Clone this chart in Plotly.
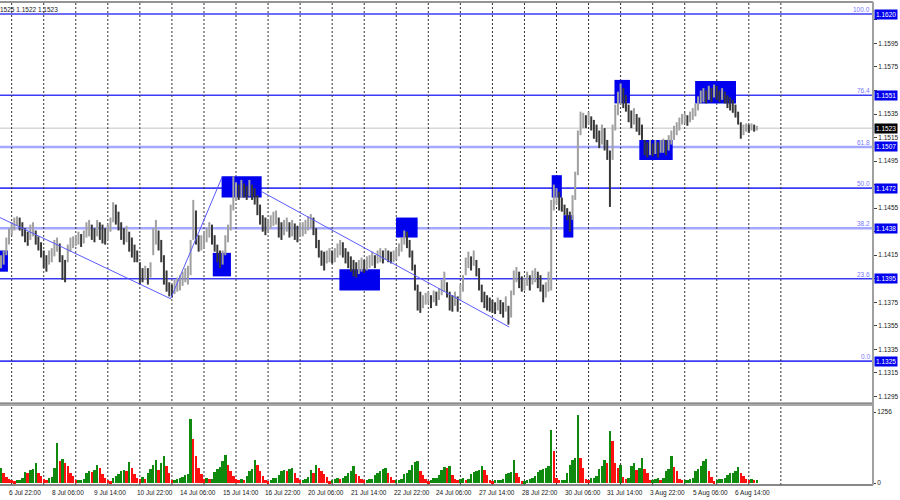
import numpy as np
import plotly.graph_objects as go

# EURUSD, 2-hour bars (bar 0 = 6 Jul 16:00)
highs = [
    1.1415, 1.1419, 1.1430, 1.1438, 1.1443, 1.1447, 1.1448, 1.1447, 1.1443, 1.1438,
    1.1435, 1.1441, 1.1443, 1.1436, 1.1431, 1.1426, 1.1419, 1.1415, 1.1419, 1.1421,
    1.1428, 1.1430, 1.1425, 1.1415, 1.1411, 1.1424, 1.1430, 1.1431, 1.1432, 1.1435,
    1.1433, 1.1436, 1.1443, 1.1445, 1.1441, 1.1438, 1.1445, 1.1443, 1.1441, 1.1438,
    1.1441, 1.1447, 1.1460, 1.1458, 1.1452, 1.1443, 1.1438, 1.1440, 1.1435, 1.1430,
    1.1424, 1.1419, 1.1409, 1.1404, 1.1406, 1.1404, 1.1409, 1.1438, 1.1445, 1.1436,
    1.1428, 1.1415, 1.1402, 1.1392, 1.1390, 1.1394, 1.1396, 1.1398, 1.1401, 1.1404,
    1.1406, 1.1428, 1.1462, 1.1453, 1.1432, 1.1432, 1.1435, 1.1438, 1.1443, 1.1441,
    1.1432, 1.1424, 1.1419, 1.1419, 1.1432, 1.1441, 1.1458, 1.1482, 1.1477, 1.1475,
    1.1479, 1.1476, 1.1474, 1.1479, 1.1475, 1.1472, 1.1466, 1.1458, 1.1449, 1.1447,
    1.1445, 1.1449, 1.1452, 1.1453, 1.1447, 1.1443, 1.1445, 1.1447, 1.1443, 1.1445,
    1.1442, 1.1440, 1.1443, 1.1443, 1.1445, 1.1448, 1.1450, 1.1447, 1.1438, 1.1428,
    1.1419, 1.1418, 1.1419, 1.1421, 1.1419, 1.1421, 1.1425, 1.1428, 1.1426, 1.1421,
    1.1418, 1.1414, 1.1411, 1.1409, 1.1411, 1.1413, 1.1411, 1.1414, 1.1415, 1.1418,
    1.1415, 1.1419, 1.1421, 1.1419, 1.1421, 1.1419, 1.1418, 1.1419, 1.1421, 1.1425,
    1.1430, 1.1436, 1.1435, 1.1428, 1.1419, 1.1407, 1.1390, 1.1384, 1.1381, 1.1383,
    1.1384, 1.1381, 1.1385, 1.1384, 1.1387, 1.1394, 1.1401, 1.1392, 1.1384, 1.1381,
    1.1384, 1.1380, 1.1390, 1.1398, 1.1413, 1.1418, 1.1414, 1.1419, 1.1411, 1.1404,
    1.1390, 1.1384, 1.1381, 1.1379, 1.1377, 1.1375, 1.1379, 1.1377, 1.1375, 1.1380,
    1.1372, 1.1385, 1.1402, 1.1405, 1.1401, 1.1397, 1.1396, 1.1401, 1.1398, 1.1402,
    1.1404, 1.1401, 1.1398, 1.1390, 1.1392, 1.1401, 1.1462, 1.1475, 1.1472, 1.1469,
    1.1464, 1.1458, 1.1455, 1.1452, 1.1466, 1.1486, 1.1521, 1.1537, 1.1536, 1.1534,
    1.1537, 1.1533, 1.1530, 1.1526, 1.1521, 1.1526, 1.1523, 1.1513, 1.1504, 1.1526,
    1.1543, 1.1554, 1.1561, 1.1557, 1.1551, 1.1543, 1.1538, 1.1540, 1.1535, 1.1532,
    1.1526, 1.1513, 1.1511, 1.1513, 1.1510, 1.1513, 1.1511, 1.1513, 1.1514, 1.1513,
    1.1517, 1.1521, 1.1525, 1.1528, 1.1532, 1.1535, 1.1536, 1.1534, 1.1537, 1.1540,
    1.1544, 1.1550, 1.1555, 1.1557, 1.1555, 1.1559, 1.1557, 1.1560, 1.1559, 1.1555,
    1.1557, 1.1554, 1.1551, 1.1549, 1.1547, 1.1543, 1.1537, 1.1528, 1.1526, 1.1527,
    1.1526, 1.1527, 1.1526, 1.1525,
]
lows = [
    1.1404, 1.1407, 1.1415, 1.1424, 1.1432, 1.1436, 1.1440, 1.1436, 1.1431, 1.1426,
    1.1423, 1.1428, 1.1431, 1.1424, 1.1419, 1.1413, 1.1404, 1.1401, 1.1407, 1.1409,
    1.1414, 1.1418, 1.1409, 1.1394, 1.1392, 1.1409, 1.1418, 1.1421, 1.1423, 1.1424,
    1.1422, 1.1425, 1.1430, 1.1431, 1.1428, 1.1426, 1.1431, 1.1428, 1.1425, 1.1424,
    1.1428, 1.1435, 1.1443, 1.1441, 1.1436, 1.1428, 1.1424, 1.1426, 1.1418, 1.1413,
    1.1409, 1.1409, 1.1390, 1.1392, 1.1394, 1.1390, 1.1396, 1.1415, 1.1424, 1.1419,
    1.1409, 1.1390, 1.1384, 1.1380, 1.1379, 1.1382, 1.1384, 1.1385, 1.1389, 1.1392,
    1.1390, 1.1398, 1.1428, 1.1424, 1.1418, 1.1419, 1.1421, 1.1426, 1.1430, 1.1424,
    1.1418, 1.1409, 1.1404, 1.1407, 1.1415, 1.1426, 1.1436, 1.1453, 1.1462, 1.1462,
    1.1464, 1.1464, 1.1462, 1.1465, 1.1462, 1.1458, 1.1449, 1.1441, 1.1435, 1.1432,
    1.1435, 1.1438, 1.1440, 1.1441, 1.1430, 1.1428, 1.1432, 1.1435, 1.1430, 1.1431,
    1.1428, 1.1426, 1.1431, 1.1431, 1.1433, 1.1436, 1.1438, 1.1432, 1.1421, 1.1413,
    1.1406, 1.1402, 1.1408, 1.1409, 1.1408, 1.1409, 1.1413, 1.1415, 1.1413, 1.1408,
    1.1404, 1.1401, 1.1397, 1.1396, 1.1399, 1.1401, 1.1400, 1.1402, 1.1404, 1.1406,
    1.1404, 1.1408, 1.1409, 1.1408, 1.1411, 1.1409, 1.1408, 1.1409, 1.1411, 1.1414,
    1.1418, 1.1424, 1.1421, 1.1413, 1.1402, 1.1385, 1.1368, 1.1366, 1.1370, 1.1373,
    1.1374, 1.1370, 1.1375, 1.1372, 1.1377, 1.1381, 1.1384, 1.1379, 1.1368, 1.1367,
    1.1372, 1.1367, 1.1377, 1.1384, 1.1398, 1.1404, 1.1402, 1.1406, 1.1397, 1.1385,
    1.1375, 1.1370, 1.1368, 1.1367, 1.1366, 1.1365, 1.1368, 1.1365, 1.1362, 1.1367,
    1.1356, 1.1362, 1.1381, 1.1392, 1.1387, 1.1384, 1.1385, 1.1389, 1.1385, 1.1390,
    1.1392, 1.1387, 1.1384, 1.1375, 1.1379, 1.1384, 1.1385, 1.1453, 1.1458, 1.1453,
    1.1452, 1.1449, 1.1445, 1.1435, 1.1445, 1.1462, 1.1483, 1.1517, 1.1523, 1.1523,
    1.1526, 1.1521, 1.1514, 1.1511, 1.1506, 1.1509, 1.1504, 1.1496, 1.1456, 1.1496,
    1.1521, 1.1534, 1.1543, 1.1540, 1.1537, 1.1528, 1.1523, 1.1526, 1.1520, 1.1517,
    1.1513, 1.1500, 1.1498, 1.1500, 1.1499, 1.1501, 1.1498, 1.1502, 1.1502, 1.1500,
    1.1504, 1.1509, 1.1513, 1.1517, 1.1521, 1.1526, 1.1527, 1.1525, 1.1528, 1.1530,
    1.1533, 1.1538, 1.1544, 1.1545, 1.1544, 1.1547, 1.1545, 1.1549, 1.1547, 1.1545,
    1.1547, 1.1544, 1.1540, 1.1538, 1.1536, 1.1532, 1.1526, 1.1514, 1.1517, 1.1520,
    1.1519, 1.1521, 1.1520, 1.1521,
]
volumes = [
    265, 177, 106, 71, 53, 35, 53, 53, 88, 195,
    177, 230, 248, 354, 177, 124, 71, 53, 88, 106,
    265, 708, 389, 425, 354, 301, 177, 124, 53, 53,
    53, 71, 177, 212, 195, 230, 319, 265, 159, 88,
    53, 35, 88, 124, 159, 212, 230, 212, 372, 265,
    159, 88, 71, 106, 71, 177, 248, 319, 407, 230,
    354, 478, 301, 177, 53, 53, 71, 88, 106, 142,
    159, 1133, 779, 478, 265, 159, 71, 88, 71, 71,
    195, 248, 283, 389, 496, 319, 212, 124, 71, 53,
    71, 53, 124, 212, 248, 407, 319, 212, 124, 53,
    35, 53, 88, 88, 142, 212, 230, 212, 248, 265,
    177, 88, 53, 53, 71, 106, 230, 177, 319, 265,
    212, 159, 106, 35, 53, 71, 88, 71, 88, 124,
    177, 212, 301, 159, 124, 71, 53, 53, 71, 71,
    142, 177, 212, 248, 265, 177, 106, 53, 53, 53,
    71, 159, 177, 230, 319, 372, 389, 212, 142, 71,
    35, 53, 88, 88, 142, 230, 283, 265, 301, 142,
    71, 53, 71, 88, 53, 71, 159, 195, 212, 230,
    301, 230, 142, 53, 35, 53, 53, 53, 71, 159,
    177, 195, 407, 177, 106, 35, 35, 53, 71, 88,
    124, 195, 230, 248, 265, 301, 938, 566, 88, 53,
    53, 53, 177, 319, 407, 442, 1204, 442, 265, 71,
    53, 88, 88, 124, 248, 301, 407, 354, 920, 743,
    354, 265, 319, 106, 71, 88, 301, 354, 230, 265,
    442, 248, 177, 53, 53, 71, 88, 53, 88, 212,
    248, 478, 283, 212, 71, 53, 53, 53, 71, 88,
    212, 248, 301, 389, 425, 212, 106, 35, 53, 71,
    71, 88, 142, 177, 177, 212, 283, 177, 124, 71,
    53, 71, 53, 53,
]

time_labels = [
    "6 Jul 22:00", "8 Jul 06:00", "9 Jul 14:00", "10 Jul 22:00", "14 Jul 06:00",
    "15 Jul 14:00", "16 Jul 22:00", "20 Jul 06:00", "21 Jul 14:00", "22 Jul 22:00",
    "24 Jul 06:00", "27 Jul 14:00", "28 Jul 22:00", "30 Jul 06:00", "31 Jul 14:00",
    "3 Aug 22:00", "5 Aug 06:00", "6 Aug 14:00",
]
label_first_bar = 3
label_step = 16

# period separators (one per trading day)
day_first_bar = 4
bars_per_day = 12
n_days = 25

fib_names = ["0.0", "23.6", "38.2", "50.0", "61.8", "76.4", "100.0"]
fib_prices = [1.1325, 1.1395, 1.1438, 1.1472, 1.1507, 1.1551, 1.1620]
fib_faint = [False, False, True, False, True, False, False]

price_ticks = [1.1295, 1.1315, 1.1335, 1.1355, 1.1375, 1.1395, 1.1415, 1.1435, 1.1455,
               1.1475, 1.1495, 1.1515, 1.1535, 1.1555, 1.1575, 1.1595, 1.1615]
last_price = 1.1523
vol_label = 1256
header = "1525 1.1522 1.1523"

# blue zones: (first bar, last bar, low, high)
zones = [
    (-0.4, 2.6, 1.1401, 1.1419),
    (79.3, 86.1, 1.1397, 1.1417),
    (82.6, 97.6, 1.1464, 1.1482),
    (126.7, 141.9, 1.1385, 1.1403),
    (147.9, 156.0, 1.1430, 1.1447),
    (206.2, 210.0, 1.1464, 1.1483),
    (210.6, 214.3, 1.1430, 1.1449),
    (229.7, 235.5, 1.1544, 1.1564),
    (239.0, 251.5, 1.1496, 1.1513),
    (259.9, 275.2, 1.1544, 1.1563),
]
trend_lines = [
    [(-0.4, 1.1447), (63.5, 1.1378), (82.9, 1.1482)],
    [(97.6, 1.1469), (190.3, 1.1354)],
]

FONT = "Liberation Sans"
BLUE = "#3c3cf5"
FAINT = "#a4a8ff"
ZONE = "#0000ee"

fig = go.Figure()

bars = np.arange(len(highs))
hi = np.array(highs)
lo = np.array(lows)
mid = (hi + lo) / 2
up = np.r_[True, mid[1:] >= mid[:-1]]

# ---- price bars ----
for mask, col in [(up, "#a0a0a0"), (~up, "#383838")]:
    xs, ys = [], []
    for i in bars[mask]:
        xs += [i, i, None]
        ys += [lo[i], hi[i], None]
    fig.add_trace(go.Scatter(x=xs, y=ys, mode="lines",
                             line=dict(color=col, width=2),
                             hoverinfo="skip", showlegend=False))

# trend lines
for pts in trend_lines:
    fig.add_trace(go.Scatter(x=[p[0] for p in pts], y=[p[1] for p in pts],
                             mode="lines", line=dict(color="#5a5aff", width=1),
                             hoverinfo="skip", showlegend=False))

# ---- volumes ----
vol = np.array(volumes)
vol_up = np.r_[True, vol[1:] >= vol[:-1]]
fig.add_trace(go.Bar(x=bars, y=vol, xaxis="x2", yaxis="y2", width=0.9,
                     marker=dict(color=np.where(vol_up, "#0f8a0f", "#ff1010"), line_width=0),
                     hoverinfo="skip", showlegend=False))

shapes = []
# fib levels + last price line
for p, faint in zip(fib_prices, fib_faint):
    shapes.append(dict(type="line", xref="paper", yref="y", x0=0, x1=1, y0=p, y1=p,
                       line=dict(color=FAINT if faint else BLUE, width=2.5 if faint else 1.6),
                       layer="below"))
shapes.append(dict(type="line", xref="paper", yref="y", x0=0, x1=1,
                   y0=last_price, y1=last_price,
                   line=dict(color="#d8d8d8", width=1.5), layer="below"))
# zones
for b0, b1, p0, p1 in zones:
    shapes.append(dict(type="rect", xref="x", yref="y", x0=b0, x1=b1, y0=p0, y1=p1,
                       fillcolor=ZONE, line=dict(width=0), layer="below"))
# period separators
for d in range(n_days):
    xd = day_first_bar + d * bars_per_day
    shapes.append(dict(type="line", xref="x", yref="paper", x0=xd, x1=xd, y0=0, y1=1,
                       line=dict(color="#303030", width=1, dash="2px,2px"), layer="below"))
# frames
shapes += [
    dict(type="rect", xref="paper", yref="paper", x0=0, x1=1, y0=0.1636, y1=0.1698,
         fillcolor="#a8a8a8", line=dict(width=0), layer="above"),
    dict(type="line", xref="paper", yref="paper", x0=0, x1=1, y0=0.1698, y1=0.1698,
         line=dict(color="#707070", width=1), layer="above"),
    dict(type="line", xref="paper", yref="paper", x0=0, x1=1, y0=1, y1=1,
         line=dict(color="#707070", width=1.5), layer="above"),
    dict(type="line", xref="paper", yref="paper", x0=0, x1=1, y0=0, y1=0,
         line=dict(color="#606060", width=1.5), layer="above"),
    dict(type="line", xref="paper", yref="paper", x0=1, x1=1, y0=0, y1=1,
         line=dict(color="#a0a0a0", width=2), layer="above"),
]

ann = []
small = dict(family=FONT, size=6.5, color="#202020")
# time labels
for j, txt in enumerate(time_labels):
    ann.append(dict(x=label_first_bar + j * label_step, y=0, xref="x", yref="paper",
                    text=txt, showarrow=False, xanchor="left", yanchor="top",
                    xshift=-2, yshift=-2, font=small))
# fib names
for name, p in zip(fib_names, fib_prices):
    ann.append(dict(x=1, y=p, xref="paper", yref="y", text=name, showarrow=False,
                    xanchor="right", yanchor="bottom", xshift=-1, yshift=-1,
                    font=dict(family=FONT, size=6.5, color="#7878ff")))
# price boxes on the axis (they cover the scale labels right under them)
for p in fib_prices:
    ann.append(dict(x=1, y=p, xref="paper", yref="y", text=f"{p:.4f}", showarrow=False,
                    xanchor="left", yanchor="middle", xshift=1, bgcolor=ZONE,
                    borderpad=1, font=dict(family=FONT, size=6.5, color="white")))
ann.append(dict(x=1, y=last_price, xref="paper", yref="y", text=f"{last_price:.4f}",
                showarrow=False, xanchor="left", yanchor="middle", xshift=1,
                bgcolor="#000000", borderpad=1,
                font=dict(family=FONT, size=6.5, color="white")))
ann.append(dict(x=0, y=1, xref="paper", yref="paper", text=header, showarrow=False,
                xanchor="left", yanchor="top", xshift=-2, yshift=-2, font=small))

boxed = fib_prices + [last_price]
tick_text = ["" if min(abs(t - b) for b in boxed) < 0.0006 else f"{t:.4f}"
             for t in price_ticks]

hidden = dict(showgrid=False, zeroline=False, showticklabels=False, ticks="")
fig.update_layout(
    width=900, height=500,
    margin=dict(l=0, r=27, t=2, b=15),
    paper_bgcolor="white", plot_bgcolor="white",
    xaxis=dict(domain=[0, 1], range=[-0.37, 326.5], anchor="y", **hidden),
    xaxis2=dict(domain=[0, 1], range=[-0.37, 326.5], anchor="y2", matches="x", **hidden),
    yaxis=dict(domain=[0.1698, 1], range=[1.12894, 1.16302], side="right",
               tickvals=price_ticks, ticktext=tick_text,
               ticks="outside", ticklen=3, tickcolor="#404040",
               tickfont=small, showgrid=False, zeroline=False),
    yaxis2=dict(domain=[0, 0.1636], range=[-35, 1363], side="right",
                tickvals=[0, vol_label], ticktext=["0", str(vol_label)],
                ticks="outside", ticklen=2, tickcolor="#404040",
                tickfont=small, showgrid=False, zeroline=False),
    bargap=0,
    shapes=shapes,
    annotations=ann,
)

# the page is photographed at 900x500: drop the default body margin
fig.write_html("out.html", config={"displayModeBar": False},
               post_script="document.body.style.margin='0';document.body.style.overflow='hidden';")
